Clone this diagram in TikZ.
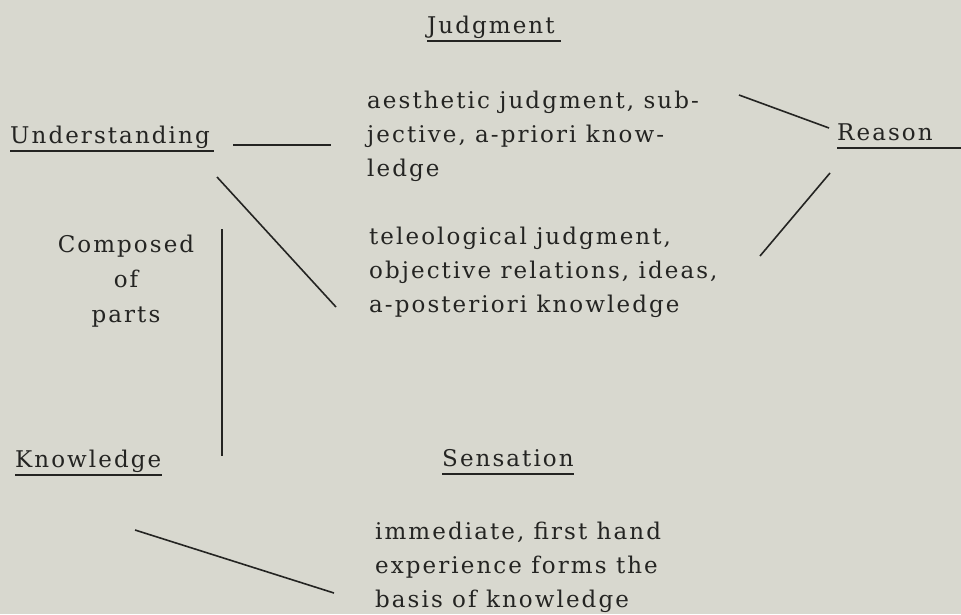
\documentclass[tikz,border=0pt]{standalone}
\usepackage{fontspec}
\setmainfont[LetterSpace=9]{DejaVu Serif}
\definecolor{paper}{RGB}{216,216,207}
\definecolor{ink}{RGB}{36,36,34}
\begin{document}
\begin{tikzpicture}[x=1pt,y=-1pt,
  lbl/.style={inner sep=0pt, anchor=base west, text=ink, font=\fontsize{23}{34}\selectfont},
  blk/.style={lbl, align=left},
  ctr/.style={inner sep=0pt, anchor=base, text=ink, font=\fontsize{23}{35}\selectfont, align=center},
  link/.style={draw=ink, line width=1.6pt},
  uline/.style={draw=ink, line width=1.4pt}]
\fill[paper] (0,0) rectangle (961,614);
\useasboundingbox (0,0) rectangle (961,614);

% labels
\node[lbl] (judg) at (427,33) {Judgment};
\node[lbl] (und) at (10,143) {Understanding};
\node[lbl] (reas) at (837,140) {Reason};
\node[lbl] (know) at (15,467) {Knowledge};
\node[lbl] (sens) at (442,466) {Sensation};

% underlines
\draw[uline] ([yshift=-8pt]judg.base west) -- ([xshift=6pt,yshift=-8pt]judg.base east);
\draw[uline] ([yshift=-8pt]und.base west) -- ([xshift=4pt,yshift=-8pt]und.base east);
\draw[uline] ([yshift=-8pt]reas.base west) -- (961,148);
\draw[uline] ([yshift=-8pt]know.base west) -- ([yshift=-8pt]know.base east);
\draw[uline] ([yshift=-8pt]sens.base west) -- ([yshift=-8pt]sens.base east);

% text blocks (base anchor = last line)
\node[blk] (aes) at (367,176) {aesthetic judgment, sub-\\jective, a-priori know-\\ledge};
\node[blk] (tel) at (369,312) {teleological judgment,\\objective relations, ideas,\\a-posteriori knowledge};
\node[blk] (imm) at (375,607) {immediate, first hand\\experience forms the\\basis of knowledge};
\node[ctr] (comp) at (126,322) {Composed\\of\\parts};

% connector end points
\coordinate (u1) at (233,145);
\coordinate (a1) at (331,145);
\coordinate (a2) at (739,95);
\coordinate (r1) at (829,128);
\coordinate (r2) at (830,173);
\coordinate (t1) at (760,256);
\coordinate (u2) at (217,177);
\coordinate (t2) at (336,307);
\coordinate (c1) at (222,229);
\coordinate (k1) at (222,456);
\coordinate (k2) at (135,530);
\coordinate (i1) at (334,593);

\draw[link] (u1) -- (a1);
\draw[link] (a2) -- (r1);
\draw[link] (r2) -- (t1);
\draw[link] (u2) -- (t2);
\draw[link] (c1) -- (k1);
\draw[link] (k2) -- (i1);
\end{tikzpicture}
\end{document}
